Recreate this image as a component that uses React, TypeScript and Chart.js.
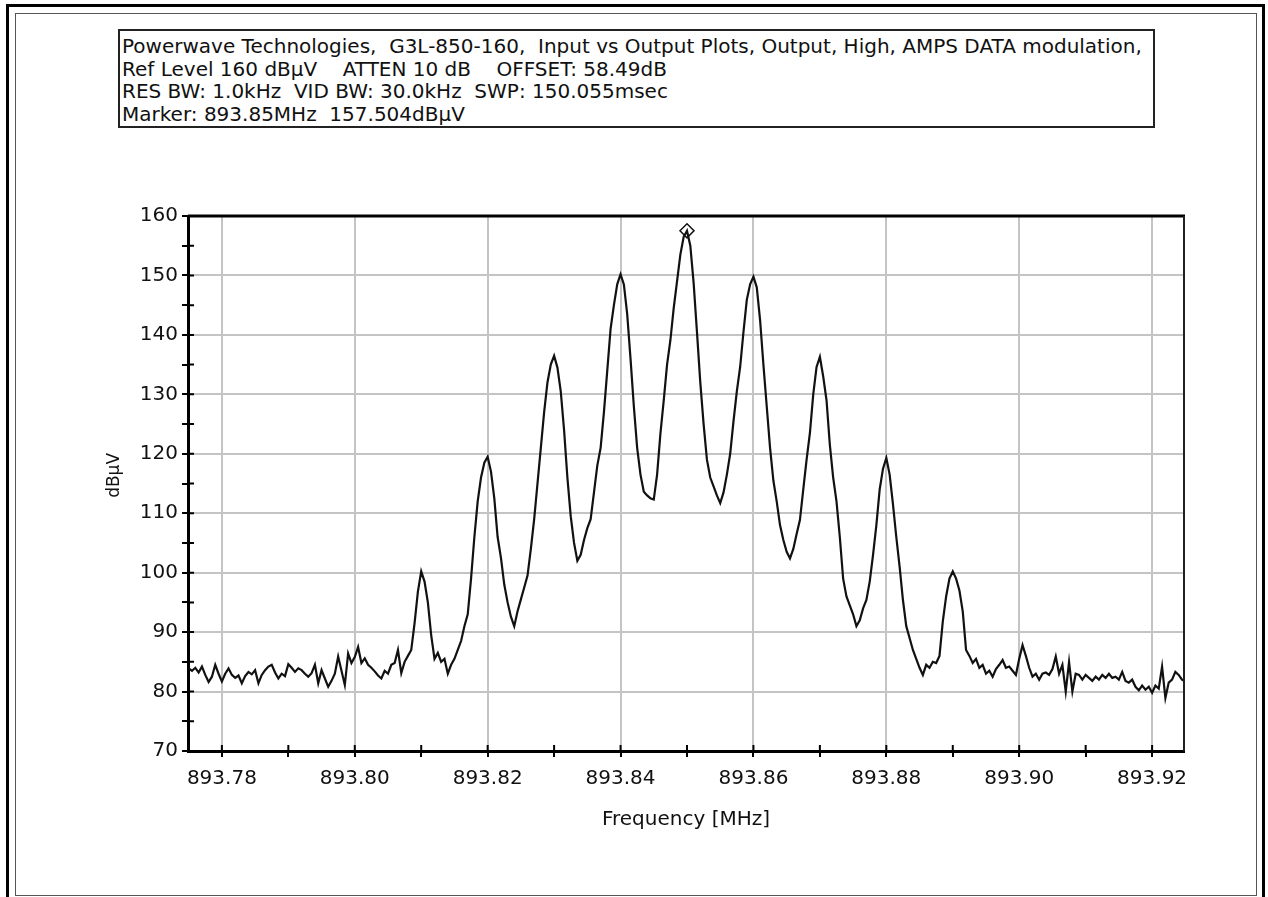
import { useEffect, useRef } from 'react';
import { Chart, registerables } from 'chart.js';

Chart.register(...registerables);

// Sweep frequencies (MHz)
const freqMHz = [
  893.7750, 893.7755, 893.7760, 893.7765, 893.7770, 893.7775, 893.7780, 893.7785, 893.7790, 893.7795,
  893.7800, 893.7805, 893.7810, 893.7815, 893.7820, 893.7825, 893.7830, 893.7835, 893.7840, 893.7845,
  893.7850, 893.7855, 893.7860, 893.7865, 893.7870, 893.7875, 893.7880, 893.7885, 893.7890, 893.7895,
  893.7900, 893.7905, 893.7910, 893.7915, 893.7920, 893.7925, 893.7930, 893.7935, 893.7940, 893.7945,
  893.7950, 893.7955, 893.7960, 893.7965, 893.7970, 893.7975, 893.7980, 893.7985, 893.7990, 893.7995,
  893.8000, 893.8005, 893.8010, 893.8015, 893.8020, 893.8025, 893.8030, 893.8035, 893.8040, 893.8045,
  893.8050, 893.8055, 893.8060, 893.8065, 893.8070, 893.8075, 893.8080, 893.8085, 893.8090, 893.8095,
  893.8100, 893.8105, 893.8110, 893.8115, 893.8120, 893.8125, 893.8130, 893.8135, 893.8140, 893.8145,
  893.8150, 893.8155, 893.8160, 893.8165, 893.8170, 893.8175, 893.8180, 893.8185, 893.8190, 893.8195,
  893.8200, 893.8205, 893.8210, 893.8215, 893.8220, 893.8225, 893.8230, 893.8235, 893.8240, 893.8245,
  893.8250, 893.8255, 893.8260, 893.8265, 893.8270, 893.8275, 893.8280, 893.8285, 893.8290, 893.8295,
  893.8300, 893.8305, 893.8310, 893.8315, 893.8320, 893.8325, 893.8330, 893.8335, 893.8340, 893.8345,
  893.8350, 893.8355, 893.8360, 893.8365, 893.8370, 893.8375, 893.8380, 893.8385, 893.8390, 893.8395,
  893.8400, 893.8405, 893.8410, 893.8415, 893.8420, 893.8425, 893.8430, 893.8435, 893.8440, 893.8445,
  893.8450, 893.8455, 893.8460, 893.8465, 893.8470, 893.8475, 893.8480, 893.8485, 893.8490, 893.8495,
  893.8500, 893.8505, 893.8510, 893.8515, 893.8520, 893.8525, 893.8530, 893.8535, 893.8540, 893.8545,
  893.8550, 893.8555, 893.8560, 893.8565, 893.8570, 893.8575, 893.8580, 893.8585, 893.8590, 893.8595,
  893.8600, 893.8605, 893.8610, 893.8615, 893.8620, 893.8625, 893.8630, 893.8635, 893.8640, 893.8645,
  893.8650, 893.8655, 893.8660, 893.8665, 893.8670, 893.8675, 893.8680, 893.8685, 893.8690, 893.8695,
  893.8700, 893.8705, 893.8710, 893.8715, 893.8720, 893.8725, 893.8730, 893.8735, 893.8740, 893.8745,
  893.8750, 893.8755, 893.8760, 893.8765, 893.8770, 893.8775, 893.8780, 893.8785, 893.8790, 893.8795,
  893.8800, 893.8805, 893.8810, 893.8815, 893.8820, 893.8825, 893.8830, 893.8835, 893.8840, 893.8845,
  893.8850, 893.8855, 893.8860, 893.8865, 893.8870, 893.8875, 893.8880, 893.8885, 893.8890, 893.8895,
  893.8900, 893.8905, 893.8910, 893.8915, 893.8920, 893.8925, 893.8930, 893.8935, 893.8940, 893.8945,
  893.8950, 893.8955, 893.8960, 893.8965, 893.8970, 893.8975, 893.8980, 893.8985, 893.8990, 893.8995,
  893.9000, 893.9005, 893.9010, 893.9015, 893.9020, 893.9025, 893.9030, 893.9035, 893.9040, 893.9045,
  893.9050, 893.9055, 893.9060, 893.9065, 893.9070, 893.9075, 893.9080, 893.9085, 893.9090, 893.9095,
  893.9100, 893.9105, 893.9110, 893.9115, 893.9120, 893.9125, 893.9130, 893.9135, 893.9140, 893.9145,
  893.9150, 893.9155, 893.9160, 893.9165, 893.9170, 893.9175, 893.9180, 893.9185, 893.9190, 893.9195,
  893.9200, 893.9205, 893.9210, 893.9215, 893.9220, 893.9225, 893.9230, 893.9235, 893.9240, 893.9245,
  893.9250,
];

// Measured level (dBµV)
const levelDbuV = [
  83.9, 83.5, 84.0, 83.2, 84.2, 82.8, 81.6, 82.5, 84.5, 83.0,
  81.7, 83.0, 83.9, 82.8, 82.3, 82.7, 81.4, 82.6, 83.3, 82.9,
  83.6, 81.4, 82.8, 83.6, 84.2, 84.5, 83.2, 82.2, 83.0, 82.6,
  84.6, 84.0, 83.3, 83.9, 83.6, 83.0, 82.5, 83.1, 84.5, 81.4,
  83.6, 82.2, 80.8, 81.8, 83.0, 85.9, 83.5, 81.1, 86.4, 84.8,
  85.8, 87.5, 84.8, 85.6, 84.5, 84.0, 83.4, 82.7, 82.2, 83.5,
  83.0, 84.5, 84.8, 87.0, 83.1, 85.0, 86.0, 87.0, 91.5, 96.8,
  100.2, 98.5, 95.0, 89.5, 85.5, 86.5, 85.0, 85.5, 83.0, 84.5,
  85.5, 87.0, 88.5, 91.0, 93.0, 99.0, 106.0, 112.0, 116.0, 118.5,
  119.5, 117.0, 112.5, 106.0, 102.5, 98.0, 95.0, 92.6, 91.0, 93.5,
  95.5, 97.5, 99.5, 104.0, 109.0, 115.0, 121.0, 127.0, 132.0, 135.0,
  136.5, 134.5, 130.5, 124.0, 116.0, 109.5, 105.0, 102.0, 103.0, 105.5,
  107.5, 109.0, 113.5, 118.0, 121.0, 127.0, 134.0, 141.0, 145.0, 148.5,
  150.2, 148.5, 143.5, 136.0, 128.0, 121.0, 116.5, 113.6, 113.0, 112.5,
  112.3, 116.5, 123.4, 129.0, 135.0, 139.1, 144.5, 149.0, 153.5, 156.5,
  157.5, 155.0, 148.7, 140.5, 132.0, 125.0, 119.0, 116.0, 114.5, 113.0,
  111.7, 113.5, 116.5, 120.0, 125.5, 130.5, 134.6, 140.5, 145.9, 148.5,
  149.8, 148.0, 142.5, 135.0, 128.0, 121.0, 115.5, 112.0, 108.0, 105.5,
  103.5, 102.4, 104.0, 106.5, 108.9, 114.0, 119.0, 123.5, 130.0, 134.6,
  136.3, 133.0, 129.0, 121.5, 116.0, 112.0, 106.0, 99.0, 96.0, 94.5,
  93.0, 91.0, 92.0, 94.0, 95.4, 98.5, 103.0, 108.0, 114.0, 117.5,
  119.3, 116.5, 111.5, 106.0, 101.0, 95.4, 91.0, 89.0, 87.0, 85.5,
  84.0, 82.8, 84.5, 84.0, 85.0, 84.8, 86.0, 91.8, 96.0, 99.0,
  100.2, 99.0, 97.0, 93.5, 87.0, 86.0, 84.8, 85.5, 84.0, 84.5,
  83.0, 83.5, 82.5, 83.8, 84.5, 85.3, 84.0, 84.2, 83.5, 82.8,
  85.5, 87.8, 86.0, 84.0, 82.5, 83.0, 82.0, 83.0, 83.2, 82.8,
  83.8, 85.9, 83.0, 84.5, 80.0, 85.0, 80.0, 83.0, 82.8, 82.0,
  82.8, 82.3, 81.8, 82.5, 82.0, 82.8, 82.3, 83.0, 82.3, 82.5,
  82.0, 83.3, 81.8, 81.5, 82.0, 80.8, 80.2, 81.0, 80.3, 80.8,
  79.8, 81.0, 80.5, 84.2, 78.9, 81.5, 82.0, 83.3, 82.8, 82.0,
  81.7,
];

const markerFreqMHz = [893.85];
const markerLevelDbuV = [157.504];

const headerLines = [
  'Powerwave Technologies,  G3L-850-160,  Input vs Output Plots, Output, High, AMPS DATA modulation,',
  'Ref Level 160 dBµV    ATTEN 10 dB    OFFSET: 58.49dB',
  'RES BW: 1.0kHz  VID BW: 30.0kHz  SWP: 150.055msec',
  'Marker: 893.85MHz  157.504dBµV',
];

const xAxisTitle = 'Frequency [MHz]';
const yAxisTitle = '   dBµV';
const xRange = [893.7749, 893.9248];
const yRange = [70, 160];

const FONT = "'DejaVu Sans', Verdana, sans-serif";

const axisDecor = {
  id: 'axisDecor',
  afterDatasetsDraw(chart: any) {
    const { ctx, chartArea: a, scales } = chart;
    const x = scales.x;
    const y = scales.y;
    ctx.save();
    ctx.strokeStyle = '#000';
    ctx.lineWidth = 2;
    ctx.beginPath();
    x.ticks.forEach((_t: any, i: number) => {
      const px = x.getPixelForTick(i);
      ctx.moveTo(px, a.bottom);
      ctx.lineTo(px, a.bottom - 6);
    });
    y.ticks.forEach((_t: any, i: number) => {
      const py = y.getPixelForTick(i);
      ctx.moveTo(a.left, py);
      ctx.lineTo(a.left + 6, py);
    });
    ctx.stroke();
    ctx.lineWidth = 3;
    ctx.beginPath();
    ctx.moveTo(a.left, a.top);
    ctx.lineTo(a.right + 1, a.top);
    ctx.stroke();
    ctx.lineWidth = 2;
    ctx.strokeStyle = '#222';
    ctx.beginPath();
    ctx.moveTo(a.right, a.top);
    ctx.lineTo(a.right, a.bottom);
    ctx.stroke();
    ctx.restore();
  },
};

export default function App() {
  const canvasRef = useRef<HTMLCanvasElement | null>(null);

  useEffect(() => {
    document.body.style.overflow = 'hidden';
    const canvas = canvasRef.current;
    if (!canvas) return;
    const chart = new Chart(canvas, {
      type: 'line',
      data: {
        datasets: [
          {
            label: 'trace',
            data: freqMHz.map((f, i) => ({ x: f, y: levelDbuV[i] })),
            borderColor: '#111',
            borderWidth: 2.2,
            pointRadius: 0,
            tension: 0,
            fill: false,
          },
          {
            label: 'marker',
            data: markerFreqMHz.map((f, i) => ({ x: f, y: markerLevelDbuV[i] })),
            showLine: false,
            pointStyle: 'rectRot',
            pointRadius: 7,
            pointBorderColor: '#111',
            pointBackgroundColor: '#fff',
            pointBorderWidth: 1.5,
            borderColor: '#111',
            backgroundColor: '#fff',
          },
        ],
      },
      options: {
        animation: false,
        responsive: true,
        maintainAspectRatio: false,
        layout: { padding: { top: 216, right: 84, bottom: 0, left: 0 } },
        plugins: {
          legend: { display: false },
          tooltip: { enabled: false },
        },
        scales: {
          x: {
            type: 'linear',
            min: xRange[0],
            max: xRange[1],
            afterFit: (s: any) => {
              s.height = 146;
            },
            ticks: {
              stepSize: 0.01,
              includeBounds: false,
              autoSkip: false,
              maxRotation: 0,
              minRotation: 0,
              padding: 10,
              color: '#111',
              font: { family: FONT, size: 20 },
              callback: (v: any) => (Math.round(Number(v) * 100) % 2 === 0 ? Number(v).toFixed(2) : ''),
            },
            grid: {
              color: (c: any) =>
                c.tick && Math.round(c.tick.value * 100) % 2 === 0 ? '#c4c4c4' : 'rgba(0,0,0,0)',
              lineWidth: 2,
              tickColor: '#000',
              tickLength: 6,
              tickWidth: 2,
            },
            border: { color: '#000', width: 3 },
            title: {
              display: true,
              text: xAxisTitle,
              color: '#111',
              font: { family: FONT, size: 20 },
              padding: { top: 0, bottom: 65 },
            },
          },
          y: {
            type: 'linear',
            min: yRange[0],
            max: yRange[1],
            afterFit: (s: any) => {
              s.width = 188;
            },
            ticks: {
              stepSize: 5,
              autoSkip: false,
              padding: 4,
              color: '#111',
              font: { family: FONT, size: 20 },
              callback: (v: any) => (Number(v) % 10 === 0 ? String(v) : ''),
            },
            grid: {
              color: (c: any) =>
                c.tick && c.tick.value % 10 === 0 && c.tick.value > yRange[0] && c.tick.value < yRange[1]
                  ? '#c4c4c4'
                  : 'rgba(0,0,0,0)',
              lineWidth: 2,
              tickColor: '#000',
              tickLength: 6,
              tickWidth: 2,
            },
            border: { color: '#000', width: 3 },
            title: {
              display: true,
              text: yAxisTitle,
              color: '#111',
              font: { family: FONT, size: 17 },
              padding: { top: 104, bottom: 0 },
            },
          },
        },
      },
      plugins: [axisDecor],
    });
    return () => chart.destroy();
  }, []);

  return (
    <div style={{ position: 'absolute', left: 0, top: 0, width: 1268, height: 897, background: '#fff', overflow: 'hidden' }}>
      <div style={{ position: 'absolute', left: 0, top: 0, width: 1268, height: 897 }}>
        <canvas ref={canvasRef} />
      </div>
      <div
        style={{
          position: 'absolute',
          left: 6,
          top: 4,
          width: 1259,
          height: 893,
          boxSizing: 'border-box',
          borderTop: '3px solid #000',
          borderLeft: '3px solid #000',
          borderRight: '3px solid #000',
          pointerEvents: 'none',
        }}
      />
      <div
        style={{
          position: 'absolute',
          left: 15,
          top: 13,
          width: 1242,
          height: 883,
          boxSizing: 'border-box',
          border: '1px solid #555',
          pointerEvents: 'none',
        }}
      />
      <div
        style={{
          position: 'absolute',
          left: 118,
          top: 29,
          width: 1037,
          height: 99,
          boxSizing: 'border-box',
          border: '2px solid #222',
          paddingTop: 4,
          paddingLeft: 2,
          fontFamily: FONT,
          fontSize: 20,
          lineHeight: '22.5px',
          color: '#111',
          whiteSpace: 'pre',
          background: '#fff',
          overflow: 'hidden',
        }}
      >
        {headerLines.map((t, i) => (
          <div key={i}>{t}</div>
        ))}
      </div>
    </div>
  );
}
